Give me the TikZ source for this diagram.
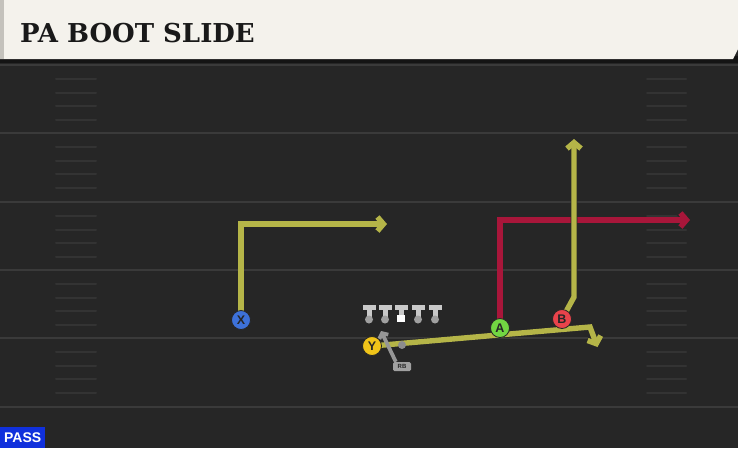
\documentclass[tikz,border=0pt]{standalone}
\usepackage{fontspec}
\usetikzlibrary{arrows.meta}
\newfontfamily\titlefont{DejaVu Serif}
\newfontfamily\lblfont{Liberation Sans}
\definecolor{fieldbg}{HTML}{262626}
\definecolor{yardc}{HTML}{3A3A3A}
\definecolor{hashc}{HTML}{333333}
\definecolor{headbg}{HTML}{F4F2EC}
\definecolor{headstrip}{HTML}{C4C2BC}
\definecolor{routey}{HTML}{B5B548}
\definecolor{router}{HTML}{A8163A}
\definecolor{xblue}{HTML}{3D71D9}
\definecolor{yyel}{HTML}{F0C419}
\definecolor{agreen}{HTML}{72D642}
\definecolor{bred}{HTML}{E8434B}
\definecolor{linec}{HTML}{C9C9C9}
\definecolor{lined}{HTML}{A0A0A0}
\definecolor{passblue}{HTML}{1030DC}
\pgfdeclarelayer{field}
\pgfdeclarelayer{routes}
\pgfsetlayers{field,routes,main}
\tikzset{
  yard/.style={draw=yardc, line width=2.5pt},
  hashmark/.style={draw=hashc, line width=2pt, line cap=round},
  player/.style={circle, draw=black!85, line width=0.8pt, minimum size=19pt, inner sep=0pt,
    font=\lblfont\bfseries\fontsize{12.5}{12.5}\selectfont, text=black!85},
  route/.style={line width=5.4pt, line join=miter,
    preaction={draw=black!85, line width=6.8pt},
    -{Straight Barb[length=6pt,width=14pt]}},
  rbline/.style={draw=lined!110, line width=3.8pt, -{Straight Barb[length=4pt,width=10pt]}},
}
\begin{document}
\begin{tikzpicture}[x=1pt,y=-1pt]
\useasboundingbox (0,0) rectangle (738,448);
\begin{pgfonlayer}{field}
\fill[fieldbg] (0,0) rectangle (738,448);
\foreach \yy in {65,133,202,270,338,407} {\draw[yard] (0,\yy) -- (738,\yy);}
\foreach \yy in {65,133,202,270,338} {
  \foreach \k in {14,27.5,41,55} {
    \draw[hashmark] (56,\yy+\k) -- (96,\yy+\k);
    \draw[hashmark] (647,\yy+\k) -- (686,\yy+\k);
  }
}
\fill[black!92] (0,56) rectangle (738,63);
\fill[headbg] (0,0) -- (738,0) -- (738,49) -- (733,59) -- (0,59) -- cycle;
\fill[headstrip] (0,0) rectangle (4,59);
\end{pgfonlayer}
\node[anchor=base west, inner sep=0pt, text=black!90, font=\titlefont\bfseries\fontsize{26}{26}\selectfont] (title) at (20,42) {PA BOOT SLIDE};
% linemen
\foreach \xx in {369,385,418,435} {
  \fill[linec] (\xx-6.5,304.5) rectangle (\xx+6.5,310);
  \fill[linec] (\xx-2.5,309) rectangle (\xx+2.5,317);
  \fill[lined] (\xx,319.5) circle (4pt);
}
\fill[linec] (401-6.5,304.5) rectangle (401+6.5,310);
\fill[linec] (401-2.5,309) rectangle (401+2.5,315);
\fill[white] (397,314.5) rectangle (405,322);
% players
\node[player, fill=xblue] (X) at (241,320) {X};
\node[player, fill=agreen] (A) at (500,328) {A};
\node[player, fill=bred] (B) at (562,319) {B};
\node[circle, fill=lined!120, minimum size=8pt, inner sep=0pt] (QB) at (402,345) {};
\node[rounded corners=1.5pt, fill=lined, text=black!85, inner sep=0pt, minimum width=18pt, minimum height=9pt,
  font=\lblfont\bfseries\fontsize{6}{6}\selectfont] (RB) at (402,366.5) {RB};
\node[player, fill=yyel] (Y) at (372,346) {Y};
% route points
\coordinate (x1) at (241,224);
\coordinate (x2) at (387,224);
\coordinate (a1) at (500,220);
\coordinate (a2) at (690,220);
\coordinate (b1) at (574,297);
\coordinate (b2) at (574,139);
\coordinate (y1) at (590,327);
\coordinate (y2) at (597.5,347);
\coordinate (rb1) at (381,331);
\begin{pgfonlayer}{routes}
\draw[route, draw=routey] (X.center) -- (x1) -- (x2);
\draw[route, draw=router] (A.center) -- (a1) -- (a2);
\draw[route, draw=routey] (B.center) -- (b1) -- (b2);
\draw[route, draw=routey] (Y.center) -- (y1) -- (y2);
\draw[rbline] (RB.north west) ++(3,0) -- (rb1);
\end{pgfonlayer}
\node[fill=passblue, anchor=south west, inner sep=0pt, minimum width=45pt, minimum height=21pt,
  text=white, font=\lblfont\bfseries\fontsize{14}{14}\selectfont] (pass) at (0,448) {PASS};
\end{tikzpicture}
\end{document}
